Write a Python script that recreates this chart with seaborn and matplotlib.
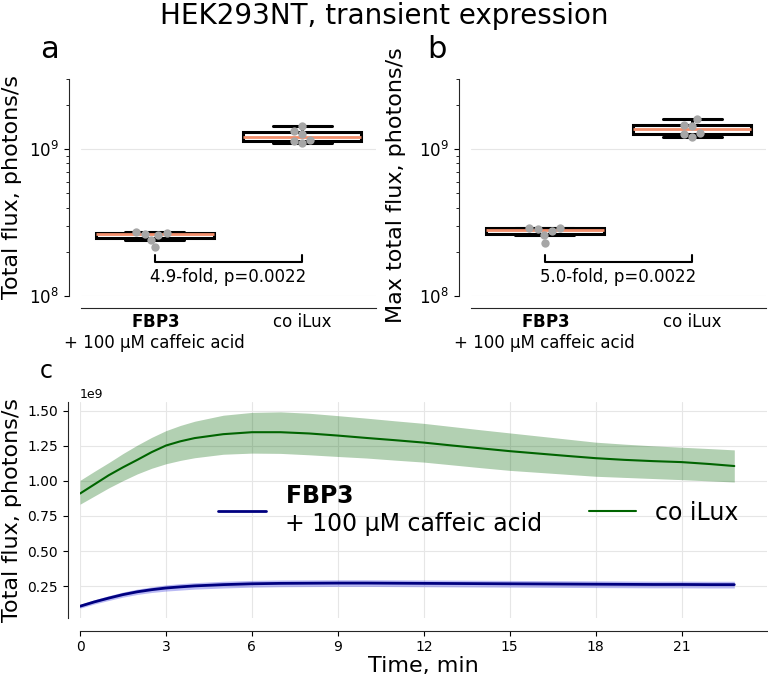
import numpy as np
import pandas as pd
import matplotlib.pyplot as plt
import seaborn as sns

# categories and per-well values (photons/s)
groups = ['$\\bf{FBP3}$\n+ 100 µM caffeic acid', 'co iLux']
total_fbp3 = [2.15e8, 2.42e8, 2.62e8, 2.64e8, 2.68e8, 2.71e8]
total_ilux = [1.099e9, 1.129e9, 1.152e9, 1.267e9, 1.322e9, 1.444e9]
max_fbp3 = [2.30e8, 2.62e8, 2.76e8, 2.86e8, 2.89e8, 2.90e8]
max_ilux = [1.214e9, 1.267e9, 1.281e9, 1.444e9, 1.467e9, 1.605e9]
fold_labels = ['4.9-fold, p=0.0022', '5.0-fold, p=0.0022']

# kinetics, units of 1e9 photons/s
time_min = [0, 0.5, 1, 1.5, 2, 2.5, 3, 3.5, 4, 5, 6, 7, 8, 9, 10, 11, 12, 13, 14,
            15, 16, 17, 18, 19, 20, 21, 22, 22.84]
ilux_mean = [0.910, 0.975, 1.040, 1.097, 1.150, 1.205, 1.252, 1.282, 1.305, 1.333,
             1.347, 1.347, 1.338, 1.323, 1.306, 1.290, 1.273, 1.252, 1.232, 1.212,
             1.195, 1.178, 1.162, 1.150, 1.141, 1.134, 1.120, 1.106]
ilux_hi = [1.004, 1.068, 1.130, 1.195, 1.255, 1.310, 1.358, 1.395, 1.425, 1.468,
           1.488, 1.492, 1.482, 1.465, 1.447, 1.428, 1.410, 1.387, 1.364, 1.342,
           1.320, 1.298, 1.276, 1.262, 1.250, 1.240, 1.230, 1.221]
ilux_lo = [0.834, 0.892, 0.950, 1.002, 1.050, 1.090, 1.122, 1.146, 1.165, 1.190,
           1.198, 1.196, 1.186, 1.174, 1.163, 1.148, 1.134, 1.114, 1.094, 1.075,
           1.061, 1.047, 1.033, 1.025, 1.017, 1.009, 1.000, 0.992]
fbp3_mean = [0.107, 0.138, 0.165, 0.190, 0.210, 0.225, 0.237, 0.245, 0.252, 0.261,
             0.267, 0.270, 0.271, 0.272, 0.272, 0.271, 0.270, 0.269, 0.268, 0.267,
             0.266, 0.265, 0.264, 0.263, 0.262, 0.262, 0.261, 0.261]
fbp3_hi = [0.121, 0.153, 0.182, 0.208, 0.229, 0.245, 0.259, 0.268, 0.275, 0.285,
           0.291, 0.294, 0.295, 0.296, 0.296, 0.295, 0.294, 0.293, 0.292, 0.291,
           0.290, 0.289, 0.288, 0.287, 0.286, 0.286, 0.285, 0.285]
fbp3_lo = [0.093, 0.123, 0.148, 0.172, 0.191, 0.205, 0.215, 0.222, 0.229, 0.237,
           0.243, 0.246, 0.247, 0.248, 0.248, 0.247, 0.246, 0.245, 0.244, 0.243,
           0.242, 0.241, 0.240, 0.239, 0.238, 0.238, 0.237, 0.237]

sns.set_style("ticks", {"axes.grid": True, "grid.color": ".9"})
plt.rcParams.update({'text.color': 'black', 'axes.labelcolor': 'black',
                     'xtick.color': 'black', 'ytick.color': 'black'})

fig = plt.figure(figsize=(7.68, 6.79), dpi=100)
ax_a = fig.add_axes([0.1055, 0.5641, 0.3841, 0.3196])
ax_b = fig.add_axes([0.6133, 0.5641, 0.3841, 0.3196])
ax_c = fig.add_axes([0.1042, 0.0898, 0.8945, 0.3181])

median_color = '#f28e6b'

def box_panel(ax, fbp3, ilux, ylabel, fold):
    df = pd.DataFrame({'group': [groups[0]] * len(fbp3) + [groups[1]] * len(ilux),
                       'flux': fbp3 + ilux})
    sns.boxplot(data=df, x='group', y='flux', ax=ax, order=groups, width=0.8,
                color='white', linecolor='black', linewidth=2.2, showfliers=False,
                log_scale=True, medianprops={'color': median_color, 'linewidth': 2})
    sns.swarmplot(data=df, x='group', y='flux', ax=ax, order=groups,
                  color='#a6a6a6', size=6, zorder=5)
    ax.set_ylim(1e8, 3e9)
    ax.set_xlim(-0.5, 1.5)
    ax.plot([0, 0, 1, 1], [1.91e8, 1.71e8, 1.71e8, 1.91e8], color='black', lw=1.5)
    ax.text(0.5, 1.56e8, fold, ha='center', va='top', fontsize=12)
    ax.set_xlabel('')
    ax.set_ylabel(ylabel, fontsize=16)
    ax.tick_params(axis='y', labelsize=12)
    ax.tick_params(axis='x', labelsize=12, length=0)
    sns.despine(ax=ax, offset=9)

box_panel(ax_a, total_fbp3, total_ilux, 'Total flux, photons/s', fold_labels[0])
box_panel(ax_b, max_fbp3, max_ilux, 'Max total flux, photons/s', fold_labels[1])
ax_a.yaxis.set_label_coords(-0.2, 0.5)
ax_b.yaxis.set_label_coords(-0.22, 0.51)

# panel c
t = np.array(time_min)
sns.lineplot(x=t, y=np.array(fbp3_mean) * 1e9, color='navy', lw=2, ax=ax_c,
             label=groups[0])
ax_c.fill_between(t, np.array(fbp3_lo) * 1e9, np.array(fbp3_hi) * 1e9,
                  color='#3a3ae0', alpha=0.35, lw=0)
sns.lineplot(x=t, y=np.array(ilux_mean) * 1e9, color='darkgreen', lw=1.5, ax=ax_c,
             label=groups[1])
ax_c.fill_between(t, np.array(ilux_lo) * 1e9, np.array(ilux_hi) * 1e9,
                  color='darkgreen', alpha=0.3, lw=0)
ax_c.set_xlim(left=0)
ax_c.set_xticks([0, 3, 6, 9, 12, 15, 18, 21])
ax_c.set_xlabel('Time, min', fontsize=16, labelpad=1)
ax_c.set_ylabel('Total flux, photons/s', fontsize=16)
ax_c.yaxis.set_label_coords(-0.084, 0.5)
ax_c.tick_params(labelsize=10)
ax_c.yaxis.get_offset_text().set_fontsize(9)
ax_c.legend(loc='center', bbox_to_anchor=(0.58, 0.5), ncol=2, frameon=False,
            fontsize=17, columnspacing=2.0)
sns.despine(ax=ax_c, offset=9)

fig.suptitle('HEK293NT, transient expression', fontsize=20, y=0.997, va='top')
fig.text(0.052, 0.915, 'a', fontsize=22, va='baseline')
fig.text(0.556, 0.915, 'b', fontsize=22, va='baseline')
fig.text(0.052, 0.443, 'c', fontsize=17, va='baseline')

fig.savefig('out.png', dpi=100)
